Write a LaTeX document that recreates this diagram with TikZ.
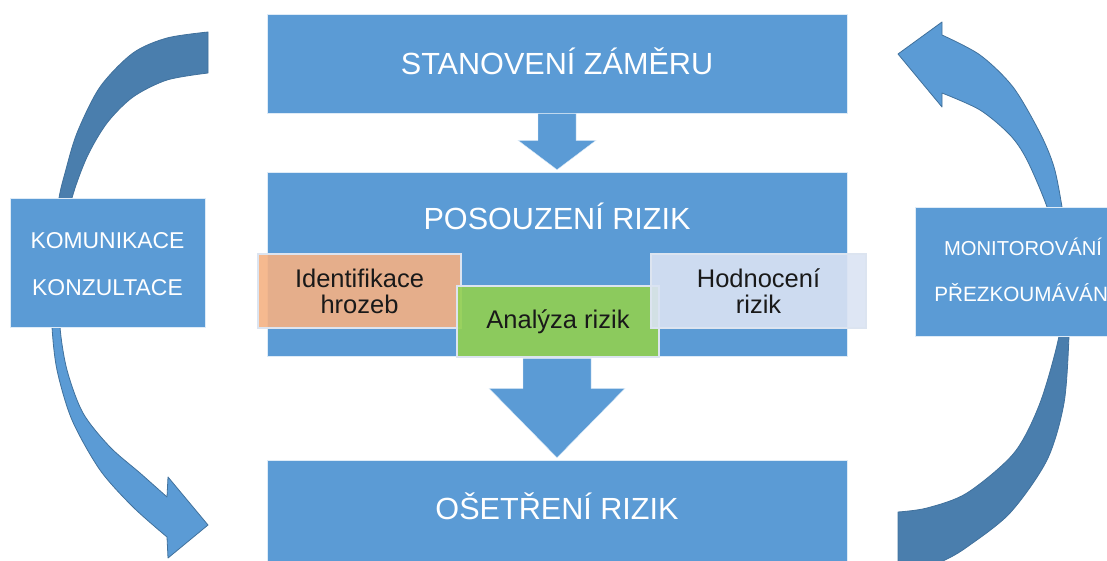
\documentclass[tikz,border=0pt]{standalone}
\usepackage{fontspec}
\setmainfont{Liberation Sans}
\usetikzlibrary{calc}
\definecolor{boxblue}{HTML}{5B9BD5}
\definecolor{darkblue}{HTML}{4A7EAD}
\definecolor{edgeblue}{HTML}{41719C}
\definecolor{orangef}{HTML}{F4B183}
\definecolor{greenf}{HTML}{92D050}
\definecolor{lightbf}{HTML}{DAE3F3}
\definecolor{subedge}{HTML}{DCE4F0}
\begin{document}
\begin{tikzpicture}[x=1pt,y=-1pt,
  bigbox/.style={rectangle, fill=boxblue, draw=white!80!boxblue, line width=0.6pt, inner sep=0pt},
  bigtext/.style={text=white, font=\fontsize{30.6}{36}\selectfont, anchor=base, inner sep=0pt},
  sidetextl/.style={text=white, font=\fontsize{22.9}{28}\selectfont, anchor=base, inner sep=0pt},
  sidetextr/.style={text=white, font=\fontsize{20.2}{25}\selectfont, anchor=base, inner sep=0pt},
  subbox/.style={rectangle, draw=subedge, line width=1.6pt, fill opacity=0.9, text opacity=1,
    text=black!90, font=\fontsize{25.5}{26}\selectfont, align=center, inner sep=0pt},
  darkband/.style={fill=darkblue, draw=edgeblue, line width=0.8pt, line join=round},
  lightband/.style={fill=boxblue, draw=edgeblue, line width=0.8pt, line join=round},
  flowarrow/.style={fill=boxblue, draw=white!80!boxblue, line width=0.4pt}
]
\useasboundingbox (0,0) rectangle (1107,560);
\clip (0,0) rectangle (1107,560);

% left curved arrow (behind the left box)
\path[darkband] (208,32) -- plot[smooth] coordinates {(208,32) (167,38) (133,53) (100,87) (77,133) (65,173) (59,198) (55,235) (53,268)}
  -- (63,268) -- plot[smooth] coordinates {(63,268) (66,235) (72,198) (87,157) (107,123) (133,97) (167,80) (208,73)} -- cycle;
\path[lightband] (53,255) -- plot[smooth] coordinates {(53,255) (52,290) (52,327) (57,370) (72,420) (100,470) (133,507) (167,537)}
  -- (168,558) -- (208,525) -- (168,477) -- (167,497)
  -- plot[smooth] coordinates {(167,497) (140,473) (110,447) (83,413) (67,370) (60,327) (61,290) (63,255)} -- cycle;

% right curved arrow (behind the right box)
\path[darkband] (1068,262) -- plot[smooth] coordinates {(1068,262) (1069,300) (1069,336) (1064,403) (1047,460) (1010,513) (967,547) (945,560) (920,570) (898,574)}
  -- (898,512) -- plot[smooth] coordinates {(898,512) (927,508) (967,493) (1014,453) (1040,403) (1059,336) (1060,300) (1058,262)} -- cycle;
\path[lightband] (942,35) -- plot[smooth] coordinates {(942,35) (980,55) (1013,87) (1040,133) (1054,167) (1062,207) (1067,245) (1069,280)}
  -- (1059,280) -- plot[smooth] coordinates {(1059,280) (1056,245) (1047,207) (1027,160) (1010,135) (980,110) (942,93)}
  -- (942,107) -- (898,54) -- (942,22) -- cycle;

% side boxes
\node[bigbox, minimum width=195pt, minimum height=129pt] (comm) at (107.5,262.5) {};
\node[sidetextl] (comm1) at (107.5,248) {KOMUNIKACE};
\node[sidetextl] (comm2) at (107.5,295) {KONZULTACE};
\node[bigbox, minimum width=210pt, minimum height=129pt] (mon) at (1020,271.5) {};
\node[sidetextr] (mon1) at (1023,255) {MONITOROVÁNÍ};
\node[sidetextr, font=\fontsize{20.7}{25}\selectfont] (mon2) at (1024,301) {PŘEZKOUMÁVÁNÍ};

% main boxes
\node[bigbox, minimum width=580pt, minimum height=99pt] (aim) at (557,63.5) {};
\node[bigtext] (aimt) at (557,74.5) {STANOVENÍ ZÁMĚRU};
\node[bigbox, minimum width=580pt, minimum height=184pt] (assess) at (557,264) {};
\node[bigtext] (assesst) at (557,229) {POSOUZENÍ RIZIK};
\node[bigbox, minimum width=580pt, minimum height=116pt] (treat) at (557,518) {};
\node[bigtext] (treatt) at (557,519) {OŠETŘENÍ RIZIK};

% sub steps
\node[subbox, fill=orangef, minimum width=203pt, minimum height=74pt] (ident) at (359.5,291) {Identifikace\\hrozeb};
\node[subbox, fill=greenf, minimum width=202pt, minimum height=71pt] (anal) at (558,321.5) {Analýza rizik};
\node[subbox, fill=lightbf, minimum width=215pt, minimum height=74pt] (eval) at (758.5,291) {Hodnocení\\rizik};

% straight flow arrows
\coordinate (t1) at ($(assess.north)+(0,-2)$);
\path[flowarrow] ($(aim.south)+(-19,0)$) -- ($(aim.south)+(19,0)$) -- ($(aim.south)+(19,27)$) -- ($(aim.south)+(39,27)$)
  -- (t1) -- ($(aim.south)+(-39,27)$) -- ($(aim.south)+(-19,27)$) -- cycle;
\coordinate (t2) at ($(treat.north)+(0,-2)$);
\path[flowarrow] ($(assess.south)+(-34,2)$) -- ($(assess.south)+(34,2)$) -- ($(assess.south)+(34,32)$) -- ($(assess.south)+(68,32)$)
  -- (t2) -- ($(assess.south)+(-68,32)$) -- ($(assess.south)+(-34,32)$) -- cycle;
\end{tikzpicture}
\end{document}
